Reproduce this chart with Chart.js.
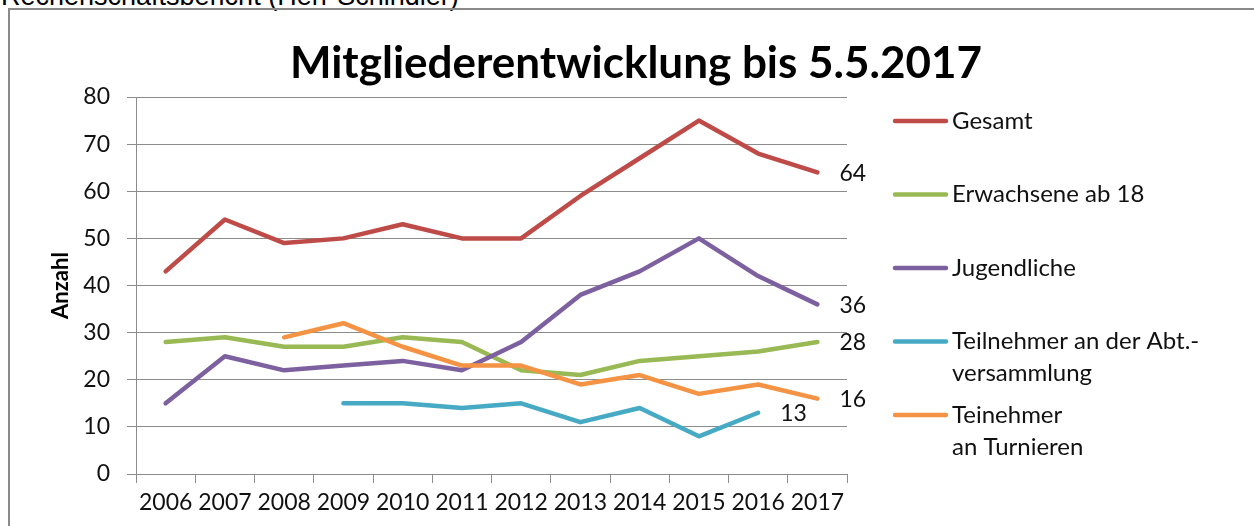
<!DOCTYPE html>
<html>
<head>
<meta charset="utf-8">
<script src="https://cdn.jsdelivr.net/npm/chart.js"></script>
<style>
  body { margin: 0; background: #fff; overflow: hidden; width: 1254px; height: 526px; position: relative; }
  #caption { position: absolute; left: 1px; top: -19px; font: 27px "Liberation Sans", Arial, sans-serif; color: #000; white-space: nowrap; }
  #frame { position: absolute; left: 8px; top: 8px; width: 1300px; height: 600px; border: 2px solid #8a8a8a; }
  #wrap { position: absolute; left: 0; top: 0; width: 1254px; height: 526px; }
</style>
</head>
<body>
<div id="caption">Rechenschaftsbericht (Herr Schindler)</div>
<div id="frame"></div>
<div id="wrap"><canvas id="graphic"></canvas></div>
<script>
const years = ['2006', '2007', '2008', '2009', '2010', '2011', '2012', '2013', '2014', '2015', '2016', '2017']
const gesamt = [43, 54, 49, 50, 53, 50, 50, 59, 67, 75, 68, 64]
const erwachsene = [28, 29, 27, 27, 29, 28, 22, 21, 24, 25, 26, 28]
const jugendliche = [15, 25, 22, 23, 24, 22, 28, 38, 43, 50, 42, 36]
const abtVersammlung = [null, null, null, 15, 15, 14, 15, 11, 14, 8, 13, null]
const turniere = [null, null, 29, 32, 27, 23, 23, 19, 21, 17, 19, 16]

const seriesNames = [
  ['Gesamt'],
  ['Erwachsene ab 18'],
  ['Jugendliche'],
  ['Teilnehmer an der Abt.-', 'versammlung'],
  ['Teinehmer', 'an Turnieren']
]
const seriesColors = ['#BE4B48', '#98B954', '#7D60A0', '#46AAC5', '#F39343']
const title = 'Mitgliederentwicklung bis 5.5.2017'
const yTitle = 'Anzahl'

const FONT = 'Lato, "Open Sans", sans-serif'
const GRID = '#8c8c8c'

// legend on the right, multi line labels
const sideLegend = {
  id: 'sideLegend',
  afterDraw(chart) {
    const ctx = chart.ctx
    ctx.save()
    ctx.font = '24px ' + FONT
    ctx.textBaseline = 'middle'
    ctx.textAlign = 'left'
    chart.data.datasets.forEach((ds, i) => {
      let y = 121 + i * 73.5
      ctx.strokeStyle = ds.borderColor
      ctx.lineWidth = 4.5
      ctx.lineCap = 'round'
      ctx.beginPath()
      ctx.moveTo(895, y)
      ctx.lineTo(946, y)
      ctx.stroke()
      ctx.fillStyle = '#111'
      seriesNames[i].forEach((t, k) => ctx.fillText(t, 952, y + k * 32))
    })
    ctx.restore()
  }
}

// value of the last point of each series
const endLabels = {
  id: 'endLabels',
  afterDatasetsDraw(chart) {
    const ctx = chart.ctx
    ctx.save()
    ctx.font = '23px ' + FONT
    ctx.fillStyle = '#111'
    ctx.textBaseline = 'middle'
    ctx.textAlign = 'left'
    chart.data.datasets.forEach((ds, i) => {
      let last = ds.data.map(v => v != null).lastIndexOf(true)
      let pt = chart.getDatasetMeta(i).data[last]
      ctx.fillText(String(ds.data[last]), pt.x + 22, pt.y + 1)
    })
    ctx.restore()
  }
}

// chart title
const topTitle = {
  id: 'topTitle',
  afterDraw(chart) {
    const ctx = chart.ctx
    ctx.save()
    ctx.font = 'bold 44px ' + FONT
    ctx.fillStyle = '#000'
    ctx.textAlign = 'center'
    ctx.textBaseline = 'alphabetic'
    ctx.fillText(title, 636, 78)
    ctx.restore()
  }
}

const allSeries = [gesamt, erwachsene, jugendliche, abtVersammlung, turniere]

const ctx = document.getElementById('graphic').getContext('2d')
const chart = new Chart(ctx, {
  type: 'line',
  data: {
    labels: years,
    datasets: allSeries.map((s, i) => ({
      label: seriesNames[i].join(' '),
      data: s,
      borderColor: seriesColors[i],
      backgroundColor: seriesColors[i],
      borderWidth: 4.5,
      borderCapStyle: 'round',
      borderJoinStyle: 'round',
      pointRadius: 0,
      tension: 0,
      order: allSeries.length - i
    }))
  },
  options: {
    responsive: true,
    maintainAspectRatio: false,
    animation: false,
    layout: {
      padding: { top: 97, right: 407, left: 0, bottom: 0 }
    },
    plugins: {
      legend: false,
      tooltip: false
    },
    scales: {
      x: {
        offset: true,
        grid: {
          offset: true,
          drawOnChartArea: false,
          color: GRID,
          tickLength: 9,
          tickColor: GRID
        },
        border: { color: GRID, width: 1 },
        ticks: {
          color: '#111',
          font: { family: FONT, size: 23 },
          autoSkip: false,
          maxRotation: 0,
          minRotation: 0,
          padding: 6
        },
        afterFit: scale => { scale.height = 52 }
      },
      y: {
        min: 0,
        max: 80,
        grid: {
          color: GRID,
          tickLength: 9,
          tickColor: GRID
        },
        border: { color: GRID, width: 1 },
        ticks: {
          stepSize: 10,
          color: '#111',
          font: { family: FONT, size: 23 },
          padding: 17
        },
        title: {
          display: true,
          text: yTitle,
          color: '#000',
          font: { family: FONT, size: 22, weight: 'bold' },
          padding: { top: 48, bottom: 0 }
        },
        afterFit: scale => { scale.width = 136 }
      }
    }
  },
  plugins: [endLabels, sideLegend, topTitle]
})
</script>
</body>
</html>
